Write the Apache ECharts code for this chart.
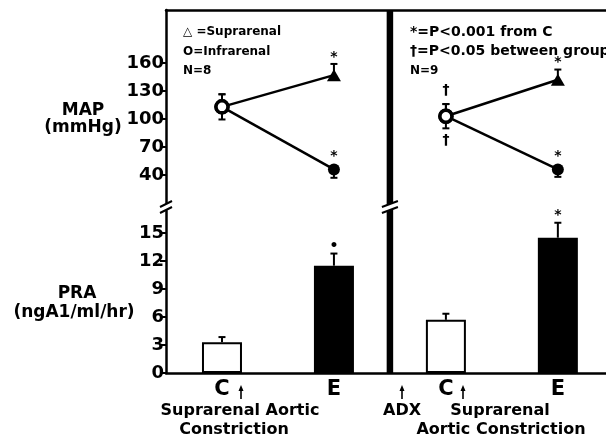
<!DOCTYPE html>
<html><head><meta charset="utf-8">
<script src="https://cdn.jsdelivr.net/npm/echarts@6/dist/echarts.min.js"></script>
<style>html,body{margin:0;padding:0;background:#fff}#c{width:606px;height:443px}</style>
</head><body><div id="c"></div>
<script>
// ---- data ----
const groupLabels = ['C', 'E', 'C', 'E'];
const groupX = [1, 2, 3, 4];
const mapTicks = [40, 70, 100, 130, 160];
const praTicks = [0, 3, 6, 9, 12, 15];
const supraMAP = [113, 147, 103, 142];
const supraErrUp = [13.5, 12, 13, 11];
const supraErrDown = [0, 0, 0, 0];
const infraMAP = [113, 46, 103, 46];
const infraErrUp = [13.5, 0, 13, 0];
const infraErrDown = [13.5, 9, 13, 8];
const supraSig = ['', '*', '', '*'];
const infraSigAbove = ['', '*', '†', '*'];
const infraSigBelow = ['', '', '†', ''];
const praMean = [3.3, 11.5, 5.7, 14.5];
const praErr = [0.55, 1.3, 0.65, 1.6];
const praSig = ['', '•', '', '*'];

const FONT = 'DejaVu Sans';
const chart = echarts.init(document.getElementById('c'), null, {renderer: 'canvas'});

function errSeries(name, xs, means, ups, downs, sigA, sigB, axisIdx, symGap) {
  return {
    type: 'custom', name, xAxisIndex: axisIdx, yAxisIndex: axisIdx, z: 1,
    data: xs.map((x, i) => [x, means[i], ups[i], downs[i]]),
    renderItem(params, api) {
      const i = params.dataIndex;
      const x = api.value(0), m = api.value(1), up = api.value(2), dn = api.value(3);
      const top = api.coord([x, m + up]), bot = api.coord([x, m - dn]), mid = api.coord([x, m]);
      const st = {stroke: '#000', lineWidth: 2};
      const ch = [{type: 'line', shape: {x1: top[0], y1: top[1], x2: bot[0], y2: bot[1]}, style: st}];
      if (up > 0) ch.push({type: 'line', shape: {x1: top[0] - 3.5, y1: top[1], x2: top[0] + 3.5, y2: top[1]}, style: st});
      if (dn > 0) ch.push({type: 'line', shape: {x1: bot[0] - 3.5, y1: bot[1], x2: bot[0] + 3.5, y2: bot[1]}, style: st});
      const sa = sigA[i], sb = sigB ? sigB[i] : '';
      if (sa) {
        const ty = up > 0 ? top[1] - (sa === '†' ? 14 : 7) : mid[1] - symGap;
        ch.push({type: 'text', style: {text: sa, x: top[0], y: ty, align: 'center', verticalAlign: 'middle',
          font: 'bold 14px ' + FONT, fill: '#000'}});
      }
      if (sb) {
        ch.push({type: 'text', style: {text: sb, x: bot[0], y: bot[1] + 12, align: 'center', verticalAlign: 'middle',
          font: 'bold 14px ' + FONT, fill: '#000'}});
      }
      return {type: 'group', children: ch};
    }
  };
}

function lineSeries(name, vals, eSymbol, eSize, panel) {
  const idx = [panel * 2, panel * 2 + 1];
  return {
    type: 'line', name, xAxisIndex: 0, yAxisIndex: 0, z: 3,
    lineStyle: {color: '#000', width: 2.5},
    data: idx.map(i => {
      const isC = groupLabels[i] === 'C';
      return {
        value: [groupX[i], vals[i]],
        symbol: isC ? 'circle' : eSymbol,
        symbolSize: isC ? 12 : eSize,
        itemStyle: isC ? {color: '#fff', borderColor: '#000', borderWidth: 3.5} : {color: '#000', borderWidth: 0}
      };
    })
  };
}

const axisText = {color: '#000', fontFamily: FONT, fontWeight: 'bold'};

const option = {
  animation: false,
  backgroundColor: '#fff',
  grid: [
    {left: 166, right: 0, top: 10, height: 193},
    {left: 166, right: 0, top: 211, bottom: 70}
  ],
  xAxis: [
    {gridIndex: 0, type: 'value', min: 0.5, max: 4.43, position: 'top',
     axisLine: {onZero: false, lineStyle: {color: '#000', width: 2.5}}, axisTick: {show: false},
     axisLabel: {show: false}, splitLine: {show: false}},
    {gridIndex: 1, type: 'value', min: 0.5, max: 4.43, position: 'bottom',
     axisLine: {onZero: false, lineStyle: {color: '#000', width: 2.5}}, axisTick: {show: false},
     axisLabel: Object.assign({customValues: groupX, fontSize: 21, margin: 6,
       formatter: v => groupLabels[groupX.indexOf(v)]}, axisText),
     splitLine: {show: false}}
  ],
  yAxis: [
    {gridIndex: 0, type: 'value', min: 10, max: 216.8,
     axisLine: {show: true, lineStyle: {color: '#000', width: 2.5}},
     axisTick: {show: true, customValues: mapTicks, length: 6, lineStyle: {color: '#000', width: 2}},
     axisLabel: Object.assign({customValues: mapTicks, fontSize: 18, margin: 2}, axisText),
     splitLine: {show: false}},
    {gridIndex: 1, type: 'value', min: 0, max: 17.36,
     axisLine: {show: true, lineStyle: {color: '#000', width: 2.5}},
     axisTick: {show: true, customValues: praTicks, length: 6, lineStyle: {color: '#000', width: 2}},
     axisLabel: Object.assign({customValues: praTicks, fontSize: 18, margin: 2}, axisText),
     splitLine: {show: false}}
  ],
  series: [
    errSeries('infraErr', groupX, infraMAP, infraErrUp, infraErrDown, infraSigAbove, infraSigBelow, 0, 13),
    errSeries('supraErr', groupX, supraMAP, supraErrUp, supraErrDown, supraSig, null, 0, 13),
    lineSeries('Suprarenal L', supraMAP, 'triangle', [14, 12], 0),
    lineSeries('Suprarenal R', supraMAP, 'triangle', [14, 12], 1),
    lineSeries('Infrarenal L', infraMAP, 'circle', 12, 0),
    lineSeries('Infrarenal R', infraMAP, 'circle', 12, 1),
    {
      type: 'bar', name: 'PRA', xAxisIndex: 1, yAxisIndex: 1, barWidth: 40, z: 2,
      data: praMean.map((v, i) => ({value: [groupX[i], v],
        itemStyle: {color: groupLabels[i] === 'E' ? '#000' : '#fff', borderColor: '#000', borderWidth: 2}}))
    },
    errSeries('praErr', groupX, praMean, praErr, praMean.map(() => 0), praSig, null, 1, 0)
  ]
};
chart.setOption(option);

// ---- decorations: divider, axis breaks, annotations ----
const dividerX = chart.convertToPixel({xAxisIndex: 0}, 2.5);
const axisX = chart.convertToPixel({xAxisIndex: 0}, 0.5);
const topY = chart.convertToPixel({yAxisIndex: 0}, 216.8);
const botY = chart.convertToPixel({yAxisIndex: 1}, 0);
const breakY = 207;

function breakMark(x, w) {
  const h = 6, gap = 6;
  return [
    {type: 'polygon', z: 100, shape: {points: [[x - w, breakY + gap / 2 + h / 2], [x + w, breakY + gap / 2 - h / 2], [x + w, breakY - gap / 2 - h / 2], [x - w, breakY - gap / 2 + h / 2]]},
     style: {fill: '#fff'}},
    {type: 'line', z: 101, shape: {x1: x - w, y1: breakY + gap / 2 + h / 2, x2: x + w, y2: breakY + gap / 2 - h / 2}, style: {stroke: '#000', lineWidth: 2}},
    {type: 'line', z: 101, shape: {x1: x - w, y1: breakY - gap / 2 + h / 2, x2: x + w, y2: breakY - gap / 2 - h / 2}, style: {stroke: '#000', lineWidth: 2}}
  ];
}
function arrow(x, y1, y2) {
  return [
    {type: 'line', shape: {x1: x, y1: y2, x2: x, y2: y1 + 4}, style: {stroke: '#000', lineWidth: 1.6}},
    {type: 'polygon', shape: {points: [[x, y1], [x - 2.5, y1 + 6], [x + 2.5, y1 + 6]]}, style: {fill: '#000'}}
  ];
}
function txt(t, x, y, size, align) {
  return {type: 'text', x: x, y: y, style: {text: t, font: 'bold ' + size + 'px "' + FONT + '"', fill: '#000',
    align: align || 'center', verticalAlign: 'middle'}};
}

const g = [
  {type: 'line', z: 50, shape: {x1: dividerX, y1: topY, x2: dividerX, y2: botY}, style: {stroke: '#000', lineWidth: 6.5}},
  ...breakMark(axisX, 6),
  ...breakMark(dividerX, 8),
  txt('MAP', 83, 111, 17), txt('(mmHg)', 83, 128, 17),
  txt('PRA', 77, 294, 17), txt('(ngA1/ml/hr)', 74, 313, 17),
  txt('\u25B3 =Suprarenal', 183, 32, 12, 'left'),
  txt('O=Infrarenal', 183, 52, 12, 'left'),
  txt('N=8', 183, 71, 12, 'left'),
  txt('*=P<0.001 from C', 410, 32, 14, 'left'),
  txt('\u2020=P<0.05 between groups', 410, 51, 14, 'left'),
  txt('N=9', 410, 71, 12, 'left'),
  txt('Suprarenal Aortic', 240, 411, 16), txt('Constriction', 234, 430, 16),
  txt('ADX', 402, 411, 16), txt('Suprarenal', 500, 411, 16), txt('Aortic Constriction', 501, 430, 16),
  ...arrow(241, 385, 399), ...arrow(402, 385, 399), ...arrow(463, 385, 399)
];
chart.setOption({graphic: g});
</script>
</body></html>
